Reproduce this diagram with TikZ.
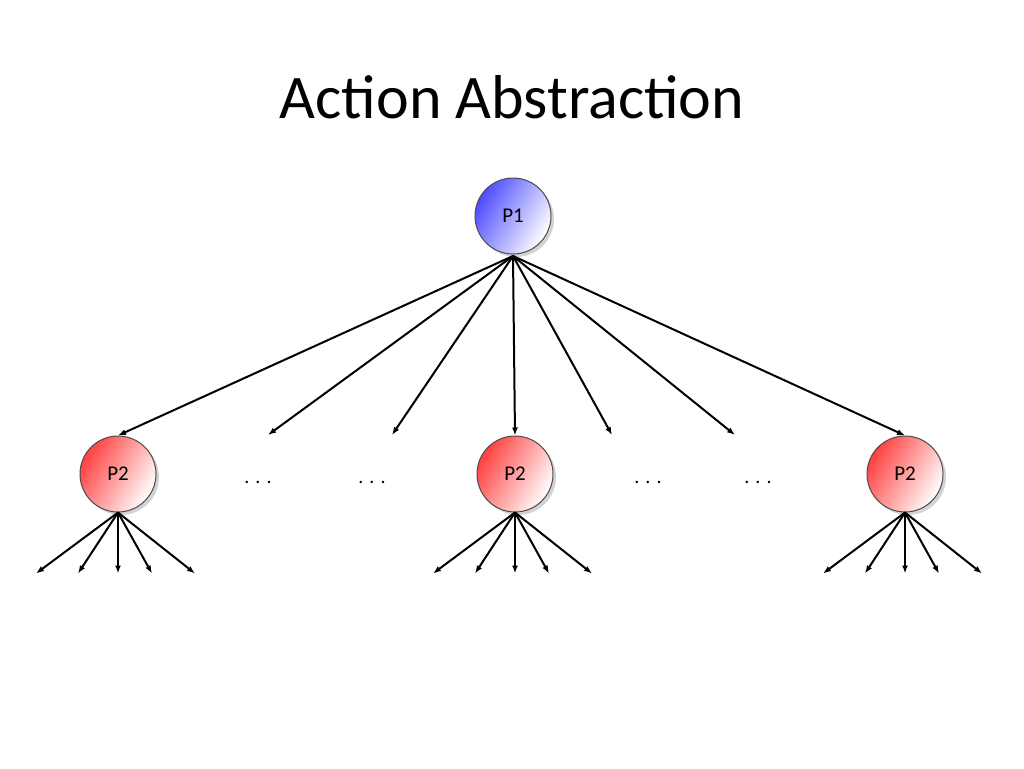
\documentclass[tikz,border=0pt]{standalone}
\usepackage{fontspec}
\setmainfont{Carlito}
\usetikzlibrary{shadows,arrows.meta}
\begin{document}
\begin{tikzpicture}[x=1pt,y=-1pt,
  ball/.style={circle,draw=black!70,line width=1pt,minimum size=76pt,inner sep=0pt,
    font=\fontsize{21}{24}\selectfont,drop shadow={shadow xshift=3pt,shadow yshift=-3pt,opacity=0.35}},
  blueball/.style={ball,left color=blue!70!white,right color=white,shading angle=60},
  redball/.style={ball,left color=red!75!white,right color=white,shading angle=60},
  arr/.style={-{Latex[length=8pt,width=6pt]},line width=2pt},
  dots/.style={font=\fontsize{20}{22}\selectfont}]
\useasboundingbox (0,0) rectangle (1024,768);
\node (title) at (512,97) {\fontsize{62}{70}\selectfont Action Abstraction};
\node[blueball] (p1) at (513,216) {P1};
\node[redball] (a) at (118,474) {P2};
\node[redball] (b) at (515,474) {P2};
\node[redball] (c) at (905,474) {P2};
\foreach \x/\n in {258/d1,372/d2,648/d3,758/d4} \node[dots] (\n) at (\x,482) {. . .};
\coordinate (top) at (513,256);
\foreach \x/\n in {268/e1,392/e2,612/e3,735/e4} \coordinate (\n) at (\x,435);
\draw[arr] (top) -- (a.north);
\draw[arr] (top) -- (b.north);
\draw[arr] (top) -- (c.north);
\foreach \n in {e1,e2,e3,e4} \draw[arr] (top) -- (\n);
\foreach \p in {a,b,c}{
  \foreach \dx [count=\i] in {-82,-40,0,34,77}{
    \coordinate (\p\i) at ([xshift=\dx pt,yshift=-61pt]\p.south);
    \draw[arr] (\p.south) -- (\p\i);
  }
}
\end{tikzpicture}
\end{document}
